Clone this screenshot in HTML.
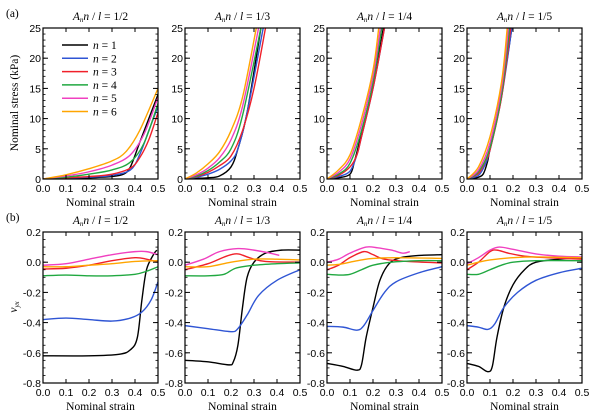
<!DOCTYPE html>
<html><head><meta charset="utf-8"><style>
body{margin:0;background:#fff;}
svg{display:block;}
.tk{font-family:"Liberation Sans",sans-serif;font-size:10.5px;fill:#000;}
.ser{font-family:"Liberation Serif",serif;font-size:11.5px;fill:#000;}
</style></head><body>
<svg id="chart" width="601" height="418" viewBox="0 0 601 418"></svg>
<script>
const colors=["#000000","#2f55d4","#f0202a","#20a840","#f040c0","#ffa500"];
const seriesNames=["n = 1","n = 2","n = 3","n = 4","n = 5","n = 6"];
const panelTitles=["1/2","1/3","1/4","1/5"];
const xTicks=[0,0.1,0.2,0.3,0.4,0.5];
const stressTicks=[0,5,10,15,20,25];
const nuTicks=[0.2,0,-0.2,-0.4,-0.6,-0.8];
// stress data [panel][series] = [[strain,stress],...]
const stressP1=[
[[0,0],[0.1,0.1],[0.2,0.2],[0.3,0.4],[0.35,0.8],[0.38,2],[0.42,6],[0.46,10],[0.5,14]],
[[0,0],[0.1,0.15],[0.2,0.3],[0.3,0.6],[0.38,1.5],[0.42,4],[0.46,8],[0.5,12]],
[[0,0],[0.1,0.2],[0.2,0.4],[0.3,0.8],[0.38,1.8],[0.42,3.5],[0.46,6.5],[0.5,11]],
[[0,0],[0.1,0.3],[0.2,0.8],[0.3,1.5],[0.38,2.8],[0.44,6],[0.5,12.5]],
[[0,0],[0.1,0.5],[0.2,1.2],[0.3,2.3],[0.38,4],[0.44,7.5],[0.5,13.5]],
[[0,0],[0.1,0.7],[0.2,1.7],[0.3,3],[0.36,4.5],[0.42,8],[0.5,15]]];
const stressP2=[
[[0,0],[0.05,0.1],[0.1,0.2],[0.15,0.5],[0.2,2],[0.23,5],[0.27,11],[0.33,25]],
[[0,0],[0.05,0.3],[0.1,0.8],[0.15,1.6],[0.2,3],[0.23,5],[0.27,11],[0.34,25]],
[[0,0],[0.05,0.4],[0.1,1.1],[0.15,2.2],[0.2,3.8],[0.25,8],[0.3,15],[0.35,25]],
[[0,0],[0.05,0.5],[0.1,1.4],[0.15,2.8],[0.2,5],[0.25,10.5],[0.33,25]],
[[0,0],[0.05,0.7],[0.1,1.8],[0.15,3.5],[0.2,6.5],[0.25,12],[0.32,25]],
[[0,0],[0.05,1],[0.1,2.5],[0.15,4.5],[0.2,8],[0.25,13.5],[0.31,25]]];
const stressP3=[
[[0,0],[0.05,0.2],[0.1,0.8],[0.12,3],[0.15,7.5],[0.2,15.5],[0.245,25]],
[[0,0],[0.05,0.4],[0.1,1.3],[0.13,4],[0.15,7],[0.2,15],[0.25,25]],
[[0,0],[0.05,0.6],[0.1,2],[0.13,4],[0.15,7],[0.2,15],[0.25,25]],
[[0,0],[0.05,0.8],[0.1,2.6],[0.15,8],[0.2,16],[0.238,25]],
[[0,0],[0.05,1.1],[0.1,3.3],[0.15,9],[0.2,17],[0.232,25]],
[[0,0],[0.05,1.5],[0.1,4],[0.15,10],[0.2,18],[0.225,25]]];
const stressP4=[
[[0,0],[0.04,0.2],[0.07,0.8],[0.09,3],[0.1,5],[0.15,14],[0.195,25]],
[[0,0],[0.05,0.6],[0.08,2.5],[0.1,4.8],[0.15,13.5],[0.195,25]],
[[0,0],[0.05,0.9],[0.08,3],[0.1,4.8],[0.15,13.5],[0.19,25]],
[[0,0],[0.05,1.2],[0.1,5.2],[0.15,14],[0.185,25]],
[[0,0],[0.05,1.5],[0.1,6],[0.15,15],[0.18,25]],
[[0,0],[0.05,2],[0.1,7],[0.15,16],[0.175,25]]];
const nuP1=[
[[0,-0.62],[0.2,-0.62],[0.33,-0.61],[0.38,-0.58],[0.41,-0.5],[0.43,-0.25],[0.45,-0.05],[0.48,0.05],[0.495,0.08]],
[[0,-0.38],[0.1,-0.37],[0.2,-0.38],[0.3,-0.39],[0.38,-0.37],[0.43,-0.33],[0.47,-0.25],[0.5,-0.13]],
[[0,-0.045],[0.1,-0.04],[0.2,-0.02],[0.3,0.01],[0.4,0.03],[0.45,0.02],[0.5,0.0]],
[[0,-0.09],[0.1,-0.085],[0.2,-0.09],[0.3,-0.09],[0.4,-0.08],[0.45,-0.06],[0.5,-0.03]],
[[0,-0.02],[0.1,-0.01],[0.2,0.02],[0.3,0.05],[0.4,0.07],[0.45,0.07],[0.5,0.05]],
[[0,-0.03],[0.1,-0.03],[0.2,-0.02],[0.3,-0.01],[0.4,0.005],[0.5,0.01]]];
const nuP2=[
[[0,-0.65],[0.1,-0.66],[0.19,-0.68],[0.21,-0.66],[0.23,-0.55],[0.25,-0.3],[0.27,-0.1],[0.3,0.0],[0.35,0.06],[0.42,0.08],[0.5,0.08]],
[[0,-0.42],[0.1,-0.44],[0.2,-0.46],[0.23,-0.44],[0.27,-0.35],[0.32,-0.22],[0.4,-0.12],[0.5,-0.05]],
[[0,-0.05],[0.1,-0.01],[0.18,0.04],[0.23,0.055],[0.28,0.03],[0.35,0.005],[0.5,0.0]],
[[0,-0.09],[0.1,-0.09],[0.17,-0.08],[0.22,-0.04],[0.3,-0.02],[0.4,-0.01],[0.5,-0.005]],
[[0,-0.02],[0.08,0.02],[0.15,0.07],[0.23,0.09],[0.3,0.08],[0.37,0.06],[0.41,0.045]],
[[0,-0.03],[0.1,-0.03],[0.2,0.0],[0.3,0.02],[0.4,0.02],[0.5,0.015]]];
const nuP3=[
[[0,-0.67],[0.07,-0.69],[0.13,-0.715],[0.15,-0.68],[0.17,-0.5],[0.2,-0.3],[0.23,-0.12],[0.27,-0.01],[0.32,0.03],[0.4,0.045],[0.5,0.05]],
[[0,-0.425],[0.07,-0.43],[0.13,-0.45],[0.16,-0.42],[0.2,-0.32],[0.25,-0.2],[0.3,-0.13],[0.4,-0.07],[0.5,-0.03]],
[[0,-0.05],[0.05,-0.02],[0.1,0.03],[0.16,0.07],[0.2,0.05],[0.25,0.02],[0.35,0.005],[0.5,-0.005]],
[[0,-0.08],[0.05,-0.085],[0.1,-0.08],[0.15,-0.05],[0.2,-0.02],[0.28,0.0],[0.4,0.01],[0.5,0.01]],
[[0,0.0],[0.05,0.02],[0.1,0.06],[0.17,0.1],[0.22,0.095],[0.28,0.08],[0.33,0.06],[0.36,0.07]],
[[0,-0.02],[0.05,-0.015],[0.1,0.0],[0.15,0.015],[0.2,0.025],[0.3,0.03],[0.5,0.025]]];
const nuP4=[
[[0,-0.67],[0.05,-0.69],[0.09,-0.725],[0.11,-0.69],[0.13,-0.5],[0.16,-0.3],[0.2,-0.15],[0.25,-0.05],[0.3,0.0],[0.4,0.02],[0.5,0.03]],
[[0,-0.42],[0.05,-0.43],[0.09,-0.445],[0.12,-0.41],[0.16,-0.3],[0.22,-0.2],[0.3,-0.12],[0.4,-0.07],[0.5,-0.04]],
[[0,-0.05],[0.05,0.0],[0.1,0.07],[0.13,0.08],[0.18,0.06],[0.25,0.04],[0.35,0.03],[0.5,0.02]],
[[0,-0.08],[0.05,-0.08],[0.1,-0.05],[0.15,-0.02],[0.2,0.0],[0.3,0.01],[0.5,0.01]],
[[0,-0.01],[0.05,0.03],[0.1,0.08],[0.14,0.1],[0.2,0.085],[0.3,0.055],[0.4,0.04],[0.5,0.035]],
[[0,-0.02],[0.05,0.0],[0.1,0.015],[0.2,0.03],[0.3,0.035],[0.5,0.03]]];
const stressData=[stressP1,stressP2,stressP3,stressP4];
const nuData=[nuP1,nuP2,nuP3,nuP4];

const NS="http://www.w3.org/2000/svg";
const svg=document.getElementById("chart");
function mk(tag,attrs,parent){const e=document.createElementNS(NS,tag);for(const k in attrs)e.setAttribute(k,attrs[k]);(parent||svg).appendChild(e);return e;}
const lefts=[43,185,327,467], W=115;
const rows=[{top:28,bot:179,min:0,max:25,ticks:stressTicks,minor:1,data:stressData,fmt:v=>String(v)},
            {top:232,bot:383,min:-0.8,max:0.2,ticks:nuTicks,minor:0.05,data:nuData,fmt:v=>v.toFixed(1)}];
function path(pts,sx,sy){
  const p=pts.map(d=>[sx(d[0]),sy(d[1])]);
  let s="M"+p[0][0].toFixed(2)+","+p[0][1].toFixed(2);
  for(let i=0;i<p.length-1;i++){
    const p0=p[i-1]||p[i],p1=p[i],p2=p[i+1],p3=p[i+2]||p[i+1];
    const c1=[p1[0]+(p2[0]-p0[0])/6,p1[1]+(p2[1]-p0[1])/6];
    const c2=[p2[0]-(p3[0]-p1[0])/6,p2[1]-(p3[1]-p1[1])/6];
    s+="C"+c1.map(v=>v.toFixed(2))+" "+c2.map(v=>v.toFixed(2))+" "+p2.map(v=>v.toFixed(2));
  }
  return s;
}
rows.forEach((r,ri)=>{
  lefts.forEach((L,pi)=>{
    const g=mk("g",{});
    
    
    const sx=v=>L+v/0.5*W, sy=v=>r.bot-(v-r.min)/(r.max-r.min)*(r.bot-r.top);
    const cid="c"+ri+pi;
    const cp=mk("clipPath",{id:cid},g);mk("rect",{x:L,y:r.top,width:W,height:r.bot-r.top},cp);
    r.data[pi].forEach((s,si)=>{
      const pe=mk("path",{d:path(s,sx,sy),fill:"none",stroke:colors[si],"stroke-width":1.4,"clip-path":"url(#"+cid+")"},g);
      
      
    });
    // frame
    mk("rect",{x:L,y:r.top,width:W,height:r.bot-r.top,fill:"none",stroke:"#000","stroke-width":1.2},g);
    // x ticks
    xTicks.forEach(t=>{const x=sx(t);
      mk("line",{x1:x,x2:x,y1:r.bot,y2:r.bot-4,stroke:"#000"},g);
      mk("line",{x1:x,x2:x,y1:r.top,y2:r.top+4,stroke:"#000"},g);
      const tx=mk("text",{x:x,y:r.bot+13,"text-anchor":"middle",class:"tk"},g);tx.textContent=t.toFixed(1);
    });
    // y ticks
    for(let v=r.min;v<=r.max+1e-9;v+=r.minor){const y=sy(v);
      mk("line",{x1:L,x2:L+2.5,y1:y,y2:y,stroke:"#000","stroke-width":0.8},g);
      mk("line",{x1:L+W,x2:L+W-2.5,y1:y,y2:y,stroke:"#000","stroke-width":0.8},g);}
    r.ticks.forEach(t=>{const y=sy(t);
      mk("line",{x1:L,x2:L+5,y1:y,y2:y,stroke:"#000"},g);
      mk("line",{x1:L+W,x2:L+W-5,y1:y,y2:y,stroke:"#000"},g);
      const tx=mk("text",{x:L-2,y:y+4,"text-anchor":"end",class:"tk"},g);tx.textContent=r.fmt(t);
    });
    const xt=mk("text",{x:L+W/2,y:r.bot+27,"text-anchor":"middle",class:"ser"},g);
    xt.textContent="Nominal strain";
    
    
    const tt=mk("text",{x:L+W/2,y:r.top-8,"text-anchor":"middle",class:"ser","font-size":"11"},g);
    tt.innerHTML='<tspan font-style="italic">A</tspan><tspan font-style="italic" font-size="7" dy="2">n</tspan><tspan font-style="italic" dy="-2">n</tspan> / <tspan font-style="italic">l</tspan> = '+panelTitles[pi];
    
    
  });
});
// legend
const lg=mk("g",{});


seriesNames.forEach((n,i)=>{const y=45+i*13.3;
  mk("line",{x1:62,x2:88,y1:y,y2:y,stroke:colors[i],"stroke-width":1.5},lg);
  const t=mk("text",{x:93,y:y+4,class:"ser"},lg);
  t.innerHTML='<tspan font-style="italic">n</tspan> = '+(i+1);
  
  
});
const a=mk("text",{x:6,y:17,class:"ser"});a.textContent="(a)";

const b=mk("text",{x:6,y:221,class:"ser"});b.textContent="(b)";

const yt=mk("text",{x:0,y:0,class:"ser","text-anchor":"middle",transform:"translate(18,103) rotate(-90)"});
yt.textContent="Nominal stress (kPa)";

const yt2=mk("text",{x:0,y:0,class:"ser","text-anchor":"middle",transform:"translate(17,307) rotate(-90)"});
yt2.innerHTML='<tspan font-style="italic">ν</tspan><tspan font-style="italic" font-size="7" dy="2">yx</tspan>';

</script>
</body></html>
